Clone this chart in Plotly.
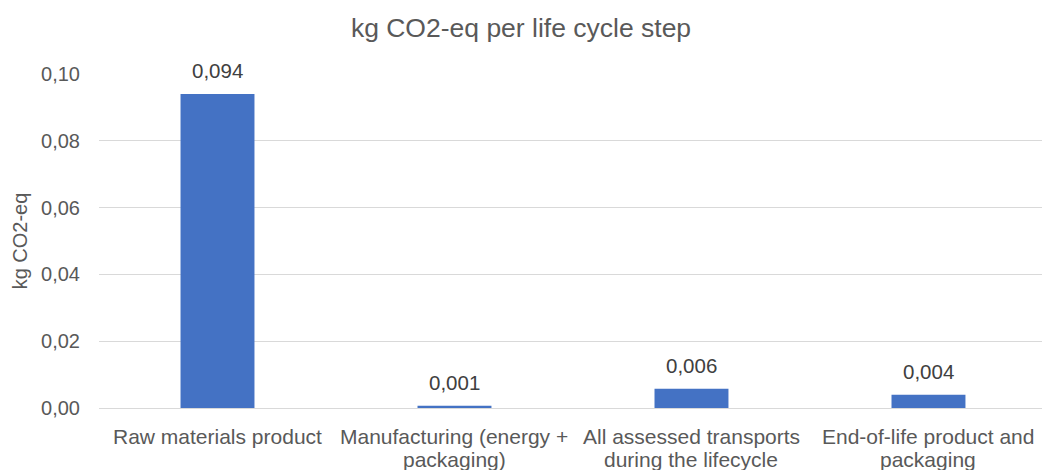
import plotly.graph_objects as go

categories = ["Raw materials product", "Manufacturing (energy +<br>packaging)",
              "All assessed transports<br>during the lifecycle", "End-of-life product and<br>packaging"]
values = [0.094, 0.0007, 0.0058, 0.0040]
y_ticks = [0.00, 0.02, 0.04, 0.06, 0.08, 0.10]

font = "Liberation Sans, Arial, sans-serif"
fig = go.Figure()
fig.add_trace(go.Bar(x=list(range(len(categories))), y=values, marker_color="#4472C4",
                     marker_line_width=0, width=0.312, hoverinfo="skip"))

for i, v in enumerate(values):
    fig.add_annotation(x=i, y=v, text=f"{v:.3f}".replace(".", ","), showarrow=False,
                       yanchor="bottom", yshift=10, font=dict(family=font, size=20.5, color="#404040"))

# category labels, one line per annotation to match the tighter line spacing
for i, cat in enumerate(categories):
    for j, line in enumerate(cat.split("<br>")):
        fig.add_annotation(x=i, xref="x", y=0, yref="paper", text=line, showarrow=False,
                           yanchor="middle", yshift=-28 - 23 * j,
                           font=dict(family=font, size=21, color="#595959"))

fig.update_layout(
    width=1042, height=470,
    margin=dict(l=99, r=0, t=74, b=62),
    paper_bgcolor="white", plot_bgcolor="white",
    separators=", ",
    showlegend=False,
    title=dict(text="kg CO2-eq per life cycle step", x=0.5, xanchor="center", y=1 - 28 / 470,
               yanchor="middle", font=dict(family=font, size=26.5, color="#595959")),
    font=dict(family=font, color="#595959"),
)
fig.update_xaxes(range=[-0.5, 3.479], tickmode="array", tickvals=list(range(len(categories))),
                 showticklabels=False, showgrid=False, showline=True, linecolor="#D9D9D9",
                 linewidth=1, ticks="", automargin=False)
fig.update_yaxes(range=[0, 0.10], tickmode="array", tickvals=y_ticks,
                 ticktext=[f"{t:.2f}".replace(".", ",") for t in y_ticks],
                 showgrid=True, gridcolor="#D9D9D9", gridwidth=1, zeroline=False,
                 ticks="", ticklabelstandoff=18, automargin=False,
                 tickfont=dict(family=font, size=20, color="#595959"),
                 title=dict(text="kg CO2-eq", standoff=8, font=dict(family=font, size=20, color="#595959")))

fig.write_html("out.html", config={"displayModeBar": False},
               post_script="document.body.style.margin='0';")
